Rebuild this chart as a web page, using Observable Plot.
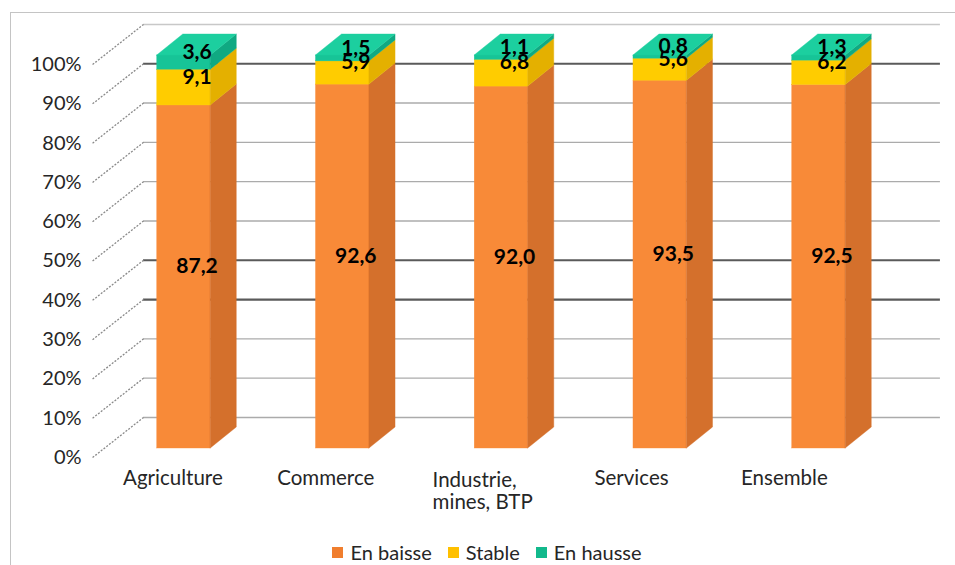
<!DOCTYPE html>
<html><head><meta charset="utf-8">
<script src="https://cdn.jsdelivr.net/npm/d3@7"></script>
<script src="https://cdn.jsdelivr.net/npm/@observablehq/plot@0.6"></script>
<style>
body{margin:0;background:#fff;font-family:Lato,"Open Sans",sans-serif}
#wrap{position:relative;width:955px;height:565px;overflow:hidden}
#frame{position:absolute;left:10px;top:12px;width:1000px;height:600px;border:1px solid #c4c4c4;pointer-events:none}
#chart{position:absolute;left:0;top:0}
#legend{position:absolute;top:541px;left:0;width:955px;display:flex;justify-content:center;padding-left:19px;box-sizing:border-box;font-size:20px;color:#262626;line-height:22px}
.item{display:flex;align-items:center;margin:0 8px}
.sw{width:11px;height:11px;margin-right:7px}
</style></head><body>
<div id="wrap"><div id="frame"></div><div id="chart"></div><div id="legend"></div></div>
<script>
// ---- data ----
const categories = ["Agriculture", "Commerce", "Industrie,\nmines, BTP", "Services", "Ensemble"];
const series = ["En baisse", "Stable", "En hausse"];
const enBaisse = [87.2, 92.6, 92.0, 93.5, 92.5];
const stable = [9.1, 5.9, 6.8, 5.6, 6.2];
const enHausse = [3.6, 1.5, 1.1, 0.8, 1.3];
const yTicks = [0, 10, 20, 30, 40, 50, 60, 70, 80, 90, 100];

// ---- styling ----
const frontColor = ["#f88a38", "#ffcc00", "#17c497"];
const sideColor = ["#d4702c", "#e4b000", "#10a982"];
const topColor = "#1ccf9f";
const legendColor = ["#f07e2e", "#ffc000", "#12b98c"];
const darkGrid = [90, 40, 30];

// 3D geometry (in scale units)
const W = 0.337, DX = 0.164, DY = 5.34;
const WALL_DY = 7.9, AXIS_DY = -2.3;
const AXIS_X = -0.576, WALL_X1 = -0.255, WALL_X2 = 4.765;

const segs = [];
categories.forEach((c, i) => {
  const vals = [enBaisse[i], stable[i], enHausse[i]];
  const tot = d3.sum(vals);
  let acc = 0;
  vals.forEach((v, k) => {
    const lo = acc / tot * 100; acc += v; const hi = acc / tot * 100;
    segs.push({i, k, series: series[k], value: v, lo, hi});
  });
});
const sidePts = segs.flatMap(d => [
  {z: d.i + "-" + d.k, k: d.k, x: d.i + W / 2, y1: d.lo, y2: d.hi},
  {z: d.i + "-" + d.k, k: d.k, x: d.i + W / 2 + DX, y1: d.lo + DY, y2: d.hi + DY}
]);
const topPts = categories.flatMap((c, i) => [
  {z: i, y: 100, x1: i - W / 2, x2: i + W / 2},
  {z: i, y: 100 + DY, x1: i - W / 2 + DX, x2: i + W / 2 + DX}
]);
const fmt = v => v.toFixed(1).replace(".", ",");
const labelX = i => i - 0.144 - 0.037 * (i - 2);
const cats = categories.map((c, i) => ({c, i, multi: c.includes("\n")}));

const marks = [
  Plot.ruleY(yTicks, {y: d => d + WALL_DY, x1: WALL_X1, x2: WALL_X2,
    stroke: d => darkGrid.includes(d) ? "#5a5a5a" : (d === 100 ? "#c8c8c8" : "#ababab"),
    strokeWidth: d => darkGrid.includes(d) ? 2.2 : 1.4}),
  Plot.link(yTicks, {x1: AXIS_X, y1: d => d + AXIS_DY, x2: WALL_X1, y2: d => d + WALL_DY,
    stroke: "#8a8a8a", strokeWidth: 1.3, strokeDasharray: "2,1.5"}),
  Plot.text(yTicks, {x: AXIS_X, y: d => d + AXIS_DY, text: d => d + "%", textAnchor: "end", dx: -11,
    fontSize: 20, fill: "#262626"})
];
for (let k = 0; k < 3; k++) {
  marks.push(Plot.rect(segs.filter(d => d.k === k), {x1: d => d.i - W / 2, x2: d => d.i + W / 2, y1: "lo", y2: "hi",
    fill: frontColor[k], stroke: frontColor[k], strokeWidth: 0.4}));
  marks.push(Plot.areaY(sidePts.filter(d => d.k === k), {x: "x", y1: "y1", y2: "y2", z: "z",
    fill: sideColor[k], stroke: sideColor[k], strokeWidth: 0.4}));
}
marks.push(Plot.areaX(topPts, {y: "y", x1: "x1", x2: "x2", z: "z", fill: topColor, stroke: topColor, strokeWidth: 0.4}));
marks.push(Plot.text(segs, {x: d => d.i + DX / 2, y: d => (d.lo + d.hi) / 2 + DY / 2, text: d => fmt(d.value),
  fontWeight: "bold", fontSize: 21, fill: "#000"}));
marks.push(Plot.text(cats.filter(d => !d.multi), {x: d => labelX(d.i), y: AXIS_DY, text: "c",
  lineAnchor: "top", dy: 13, fontSize: 20.5, fill: "#262626"}));
marks.push(Plot.text(cats.filter(d => d.multi), {x: d => labelX(d.i) - 0.29, y: AXIS_DY, text: "c",
  lineAnchor: "top", textAnchor: "start", dy: 13, fontSize: 20.5, fill: "#262626", lineHeight: 1.1}));

const chart = Plot.plot({
  width: 955, height: 530,
  marginLeft: 0, marginRight: 0, marginTop: 55, marginBottom: 82,
  x: {type: "linear", domain: [-1.156, 4.86], axis: null},
  y: {domain: [0, 100], axis: null},
  style: {fontFamily: "Lato, 'Open Sans', sans-serif", background: "transparent", overflow: "visible"},
  marks
});
document.getElementById("chart").appendChild(chart);

const legend = document.getElementById("legend");
series.forEach((s, k) => {
  const it = document.createElement("div"); it.className = "item";
  const sw = document.createElement("span"); sw.className = "sw"; sw.style.background = legendColor[k];
  const tx = document.createElement("span"); tx.textContent = s;
  it.appendChild(sw); it.appendChild(tx); legend.appendChild(it);
});
</script>
</body></html>
